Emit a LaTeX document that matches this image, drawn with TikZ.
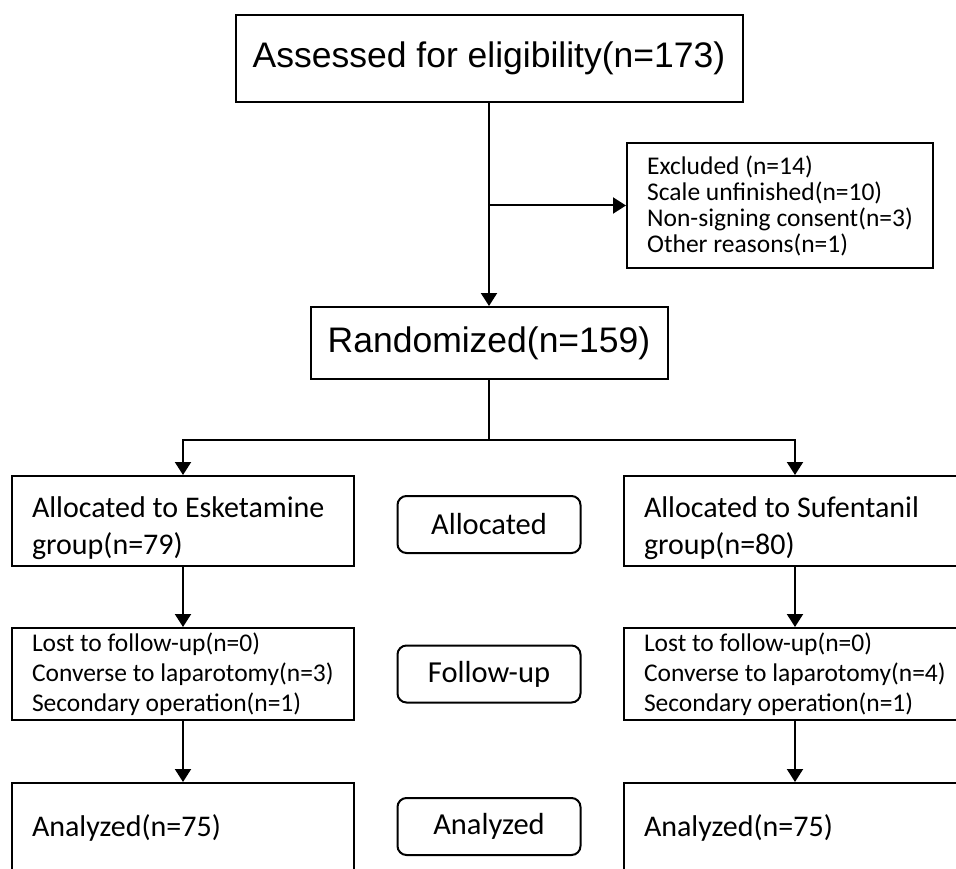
\documentclass[tikz,border=0pt]{standalone}
\usepackage{fontspec}
\setmainfont{Carlito}
\newfontfamily\arialfont{Liberation Sans}
\usetikzlibrary{arrows.meta, positioning}

\tikzset{
  bigbox/.style={draw, inner sep=0pt, font=\arialfont\fontsize{35.5}{42}\selectfont},
  grpbox/.style={draw, minimum width=342pt, minimum height=90pt, text width=302pt,
    inner xsep=20pt, align=flush left, font=\fontsize{30}{37}\selectfont},
  allocbox/.style={grpbox, execute at begin node={\rule{0pt}{36pt}}},
  listbox/.style={grpbox, minimum height=92pt, font=\fontsize{25.5}{30}\selectfont},
  exclbox/.style={draw, minimum width=306pt, minimum height=125pt, align=left,
    font=\fontsize{25.5}{26}\selectfont},
  stagebox/.style={draw, rounded corners=9pt, minimum width=183pt, minimum height=57pt,
    font=\fontsize{30.5}{35}\selectfont},
}

\begin{document}
\begin{tikzpicture}[x=1pt, y=-1pt, line width=2pt, >={Triangle[length=13pt,width=16pt]}]
\path[use as bounding box] (0,0) rectangle (956,869);
\node[bigbox, minimum width=507pt, minimum height=87pt] (assess) at (489,58.5) {Assessed for eligibility(n=173)};
\node[exclbox] (excl) at (780,205.5) {Excluded (n=14)\\Scale unfinished(n=10)\\Non-signing consent(n=3)\\Other reasons(n=1)};
\node[bigbox, minimum width=357pt, minimum height=72pt] (rand) at (489,343) {Randomized(n=159)};

\node[allocbox] (lalloc) at (183,521) {Allocated~to~Esketamine\\group(n=79)};
\node[stagebox] (salloc) at (489,524.5) {Allocated};
\node[allocbox] (ralloc) at (795,521) {Allocated~to~Sufentanil\\group(n=80)};

\node[listbox] (lfollow) at (183,674) {Lost~to~follow-up(n=0)\\Converse~to~laparotomy(n=3)\\Secondary~operation(n=1)};
\node[stagebox] (sfollow) at (489,674) {Follow-up};
\node[listbox] (rfollow) at (795,674) {Lost~to~follow-up(n=0)\\Converse~to~laparotomy(n=4)\\Secondary~operation(n=1)};

\node[grpbox] (lana) at (183,828) {Analyzed(n=75)};
\node[stagebox] (sana) at (489,826.5) {Analyzed};
\node[grpbox] (rana) at (795,828) {Analyzed(n=75)};

\draw[->] (assess.south) -- (rand.north);
\draw[->] (assess.south |- excl.west) -- (excl.west);
\coordinate (split) at (489,440);
\draw (rand.south) -- (split);
\draw[->] (split) -| (lalloc.north);
\draw[->] (split) -| (ralloc.north);
\draw[->] (lalloc) -- (lfollow);
\draw[->] (ralloc) -- (rfollow);
\draw[->] (lfollow) -- (lana);
\draw[->] (rfollow) -- (rana);
\end{tikzpicture}
\end{document}
